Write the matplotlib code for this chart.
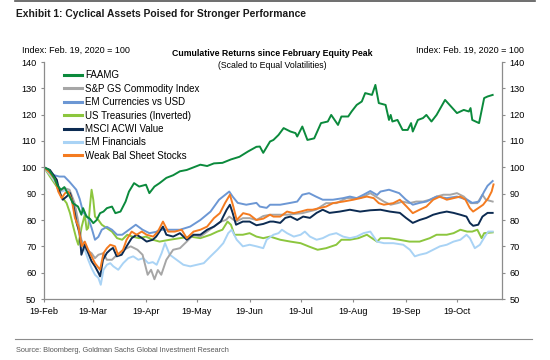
#!/usr/bin/env python3
# Exhibit 1 - cyclical assets since the Feb 2020 equity peak
import numpy as np
import pandas as pd
import matplotlib
matplotlib.use("Agg")
import matplotlib.pyplot as plt
import matplotlib.dates as mdates
from matplotlib.lines import Line2D

plt.rcParams['font.family'] = ['Liberation Sans', 'DejaVu Sans']

START = pd.Timestamp('2020-02-19')  # index base date (=100)

# values, x = days since 19-Feb-2020
faamg_days = [0, 3, 6, 8, 10, 12, 14, 15, 17, 20, 22, 23, 25, 27, 29, 31, 33, 35, 37, 40, 42, 45, 48, 50,
              53, 56, 60, 62, 65, 68, 72, 76, 80, 84, 88, 92, 96, 100, 105, 110, 115, 120, 125, 127, 129,
              133, 135, 138, 141, 145, 148, 149, 152, 155, 159, 163, 167, 169, 173, 175, 179, 181, 184,
              187, 189, 193, 195, 197, 201, 203, 204, 205, 208, 211, 214, 216, 217, 220, 223, 225, 228,
              231, 236, 243, 247, 250, 251, 252, 254, 256, 259, 261, 264]
faamg_vals = [100, 99, 96, 93, 91.5, 92.5, 90, 89, 86.4, 85.1, 82, 84.5, 81.3, 80.5, 78.8, 80, 82.6, 83.2,
              84.5, 85.1, 82.6, 83.2, 87, 90.8, 94, 92.7, 93.4, 90.2, 92.7, 94, 96, 97, 98.5, 99, 100, 101,
              100.5, 101.5, 101.7, 103, 104, 106, 107.8, 107.9, 105.5, 109.8, 110.4, 112.3, 114.9, 113.6,
              113, 111.7, 115.5, 110.4, 111, 116.8, 117.4, 119.9, 116.1, 119.3, 119.3, 121.2, 123.7, 125,
              128.2, 127.5, 131.3, 124.4, 123.7, 118, 119.9, 117.4, 118, 114.2, 114.2, 116.8, 113.6, 118,
              118.7, 119.9, 117.4, 119.9, 125.6, 120.6, 121.8, 121.2, 122.5, 118, 117.4, 116.8, 126.3,
              126.9, 127.5]

cmdty_days = [0, 3, 6, 9, 12, 15, 18, 20, 22, 25, 28, 30, 32, 35, 37, 40, 43, 47, 51, 55, 58, 61, 63, 65,
              67, 69, 72, 76, 80, 84, 88, 92, 96, 100, 104, 107, 109, 113, 117, 121, 125, 129, 133, 143,
              152, 160, 166, 172, 178, 186, 192, 196, 200, 204, 208, 211, 215, 219, 223, 227, 231, 235,
              239, 243, 247, 251, 255, 258, 260, 264]
cmdty_vals = [100, 98.5, 96, 90.8, 92.1, 91.5, 86.5, 80, 72.5, 68.7, 67.4, 65.5, 66.8, 67.4, 64.9, 64.9,
              66.8, 68.7, 70, 68.7, 66.8, 59.2, 61.1, 57.5, 61, 59.2, 64.9, 68.7, 69.3, 71.8, 74.4, 73.7,
              75.6, 77.5, 79.4, 80, 81.3, 79.4, 80.7, 80.7, 80, 81.5, 82, 82, 82.6, 83.9, 86.4, 86.4, 88.3,
              88.3, 90.2, 88.6, 87, 85.8, 86.4, 87, 86.4, 87, 87, 87.7, 88.9, 89.6, 89.6, 90.2, 88.9, 86.4,
              86.4, 89.6, 87.7, 87]

emfx_days = [0, 3, 6, 9, 12, 15, 17, 19, 21, 23, 26, 28, 30, 32, 34, 37, 40, 43, 46, 50, 54, 58, 62, 66,
             68, 74, 80, 86, 92, 98, 103, 109, 111, 114, 119, 125, 127, 131, 133, 139, 145, 149, 152, 156,
             160, 164, 170, 176, 180, 184, 188, 192, 196, 198, 203, 209, 213, 217, 221, 225, 231, 237, 243,
             249, 252, 256, 259, 261, 264]
emfx_vals = [100, 98.5, 97, 96.5, 96.5, 94.5, 93, 91.5, 88, 83, 80.8, 77, 72.5, 73.6, 76.3, 77.4, 76.3,
             74.4, 74.4, 76.3, 78.2, 76.3, 75, 75.5, 76.3, 76.3, 76.3, 77.5, 80, 83.2, 87.7, 90.8, 88.9,
             86.5, 85.8, 86.5, 85.1, 84.6, 85.8, 85.8, 86.5, 87, 89.6, 90.2, 88.9, 87.7, 87.7, 88.3, 88.9,
             88.3, 89.6, 91, 89.5, 90.8, 91.5, 90.2, 87.7, 85.8, 86.5, 87, 88.9, 88.3, 88.9, 87.7, 86.5,
             87, 90.8, 93, 94.8]

ust_days = [0, 3.5, 7.5, 10.4, 13.3, 15.3, 17.2, 19.2, 20.2, 22.2, 24, 25.1, 26, 27, 28, 29, 30, 32, 34,
            37, 40, 43, 46, 49, 52, 56, 60, 64, 68, 74, 80, 86, 92, 98, 102, 105, 108, 110, 112, 117, 121,
            125, 129, 133, 139, 145, 151, 156, 161, 166, 172, 175, 180, 185, 190, 193, 196, 198, 203, 209,
            215, 221, 227, 231, 237, 241, 245, 249, 252, 255, 257.5, 259, 264]
ust_vals = [100, 96.5, 92.7, 88.9, 86.4, 82.6, 77.5, 72.5, 70.6, 77.5, 82, 76.3, 77, 85.1, 91.5, 87.7,
            81.3, 80, 78.2, 76.9, 75.6, 73.1, 72.5, 74.4, 73.7, 73.1, 73.7, 72.5, 71.8, 72.5, 73.1, 73.7,
            73.1, 74.4, 75.6, 76.3, 79.4, 78.2, 74.4, 74.4, 75, 73.7, 73.1, 73.7, 72.5, 71.8, 71.2, 69.9,
            68.7, 69.3, 70.6, 72.5, 72.5, 73.1, 74.4, 73.1, 71.8, 73.1, 73.1, 72.5, 71.8, 71.8, 73.1, 74.4,
            74.4, 75, 76.3, 75.6, 75.6, 76.3, 73.1, 75, 75.3]

msci_days = [0, 3.5, 7.5, 9.4, 11, 13.3, 15.3, 17, 19.2, 21, 22, 24, 26, 28, 30, 32, 33, 34.7, 37, 39,
             40.6, 42.8, 45.7, 48.6, 51.6, 54.5, 57.5, 60.4, 64, 66, 70, 72, 76, 80, 84, 88, 92, 96, 100,
             104, 107.5, 109.4, 111, 113, 117, 121, 125, 129, 133, 135, 139, 142, 145, 149, 152.5, 156.5,
             160.4, 164, 168, 174, 180, 186, 192, 198, 203.5, 209.4, 213, 217, 221, 225, 229, 233, 237,
             241, 245, 248.6, 250.6, 252.5, 255.5, 258, 261, 264]
msci_vals = [100, 99, 95.3, 90.2, 87.7, 88.9, 90.2, 86.5, 78.9, 75, 66.8, 70.6, 67.5, 64.3, 62.4, 60,
             58.6, 64.9, 67.5, 68.7, 69.4, 66.2, 66.8, 70, 73.1, 74.4, 73.2, 71.8, 72.5, 73.7, 77.5, 74.4,
             73.7, 75, 72.5, 74.4, 74.4, 76.3, 77.5, 79.4, 83.9, 85.8, 82.7, 78.2, 79.4, 79.4, 78, 78.5,
             79.4, 79.4, 78.9, 80.8, 81.3, 80, 81.3, 80.8, 82.7, 83.9, 82.7, 83.2, 83.9, 83.2, 83.7, 83.9,
             83.2, 82.7, 80.8, 78.9, 80, 80.8, 82, 82.7, 83.2, 82.7, 82, 81.3, 78.9, 77.8, 78.2, 81.3,
             82.7, 82.7]

emfin_days = [0, 3.5, 7.5, 10.4, 13.3, 16.3, 18.2, 20.2, 22.2, 24, 26, 28, 30, 32, 33.4, 35, 37, 39,
              40.8, 43.7, 46.6, 49.6, 52.5, 55.5, 58.4, 61.4, 64, 66.3, 69.2, 71.2, 74, 78, 82, 86, 90,
              94, 98, 102, 105.5, 108.4, 110.4, 113.4, 117, 121, 125, 129, 131, 135, 138, 140, 143, 147,
              151, 153.5, 156.5, 160.4, 164, 168, 172, 176, 180, 184, 188, 192, 196, 200, 205.5, 211.4,
              215.3, 218.2, 221, 225, 229, 233, 237, 241, 245, 248.6, 250.6, 253.5, 256.5, 259.4, 261.4,
              264]
emfin_vals = [100, 97.2, 93.4, 90.8, 91.5, 88.9, 83.9, 76.3, 70, 68.7, 64.9, 61.7, 59.2, 58, 55.4, 61.1,
              63, 63.6, 62.4, 61.1, 63.6, 65.5, 66.2, 64.9, 65.5, 63.6, 64, 63, 67.4, 71.2, 66.8, 64.9, 63,
              62.4, 63, 63.6, 66.2, 68.7, 71.2, 75, 76.3, 72.5, 70, 70.6, 70, 69.3, 72.5, 74.4, 75, 76.3,
              75, 73.7, 74.4, 75.6, 73.7, 72.5, 73.1, 74.4, 75, 73.7, 73.1, 73.7, 75, 75.6, 71.8, 71.2,
              71.2, 70.6, 68.7, 66.2, 66.8, 67.4, 68.7, 70, 70.6, 71.8, 72.5, 74.4, 73.1, 69.3, 70.6, 73.7,
              75.6, 75.6]

weak_days = [0, 3.5, 6.5, 8.4, 10.4, 12.4, 14.3, 16.3, 18.2, 20.2, 22.2, 24, 26, 28, 30, 33, 35, 37, 39,
             41.8, 43.5, 46.5, 48.6, 51.6, 54.5, 57.5, 60.4, 64.3, 67, 70, 73, 77, 81, 84, 88, 92, 96, 100,
             103.5, 106.5, 109.4, 111.4, 113.4, 117.2, 121, 125, 129, 133, 135, 139, 143, 147, 151, 155,
             158, 162, 166, 170, 176, 182, 186, 190, 194, 197, 200, 205.5, 209.4, 213.4, 217, 221, 225,
             229, 233, 237, 241, 245, 248, 250.6, 252.5, 255.5, 258.4, 261.4, 263.4, 264.5]
weak_vals = [100, 97.9, 95.3, 90.8, 88.3, 90.2, 90.8, 87.7, 80.8, 77.5, 70, 71.8, 68.7, 66.2, 63.6, 61.1,
             67.4, 69.3, 70.6, 70, 66.8, 68.7, 72.5, 75.6, 74.4, 75.6, 74.4, 73.7, 75.6, 79.4, 75.6, 75.6,
             76.3, 73.1, 75.6, 76.3, 77.5, 80.7, 82.6, 86.4, 89.6, 85.1, 80, 82.6, 82, 80, 80.5, 82, 81.3,
             81.3, 83.2, 82.6, 83.2, 83.9, 83.9, 84.5, 85.1, 86.4, 87, 87.7, 88.3, 88.9, 88.3, 86.4, 85.8,
             86.4, 87.7, 85.1, 82.6, 83.9, 85.1, 87.7, 88.9, 87.7, 88.3, 88.9, 87.7, 84.5, 83.2, 84.5,
             85.8, 88.3, 90.8, 93.5]

# legend order as in the exhibit: (label, days, values, colour)
SERIES = [
    ("FAAMG", faamg_days, faamg_vals, "#0B8A3C"),
    ("S&P GS Commodity Index", cmdty_days, cmdty_vals, "#A6A6A6"),
    ("EM Currencies vs USD", emfx_days, emfx_vals, "#6C97D4"),
    ("US Treasuries (Inverted)", ust_days, ust_vals, "#8CC63E"),
    ("MSCI ACWI Value", msci_days, msci_vals, "#0C2B52"),
    ("EM Financials", emfin_days, emfin_vals, "#A9D3F5"),
    ("Weak Bal Sheet Stocks", weak_days, weak_vals, "#F47B20"),
]
DRAW_ORDER = [3, 5, 1, 2, 4, 6, 0]  # which series end up on top

AX_GREY = "#8C8C8C"

fig = plt.figure(figsize=(5.5, 3.6), dpi=100)
ax = fig.add_axes([44 / 550, 1 - 299 / 360, 458 / 550, 237 / 360])

for i in DRAW_ORDER:
    name, d, v, c = SERIES[i]
    dates = START + pd.to_timedelta(np.array(d, dtype=float), unit='D')
    ax.plot(dates, v, color=c, lw=1.4, solid_joinstyle='round')

ax.set_ylim(50, 140)
ax.set_yticks(np.arange(50, 141, 10))
ax.set_xlim(START, pd.Timestamp('2020-11-14 12:00'))
ax.set_xticks([pd.Timestamp(2020, m, 19) for m in range(2, 11)])
ax.xaxis.set_major_formatter(mdates.DateFormatter('%d-%b'))

ax.spines['top'].set_visible(False)
for s in ['left', 'right', 'bottom']:
    ax.spines[s].set_color(AX_GREY)
    ax.spines[s].set_linewidth(0.9)
ax.tick_params(axis='y', left=True, right=True, labelleft=True, labelright=True,
               direction='out', length=2.5, width=0.8, color=AX_GREY, labelsize=6.6, pad=3)
ax.tick_params(axis='x', direction='out', length=2.5, width=0.8, color=AX_GREY, labelsize=6.6, pad=3)

handles = [Line2D([], [], color=c, lw=2.2) for (_, _, _, c) in SERIES]
ax.legend(handles, [s[0] for s in SERIES], loc='upper left',
          bbox_to_anchor=(64 / 550, 1 - 70.5 / 360), bbox_transform=fig.transFigure,
          frameon=False, fontsize=7, handlelength=1.9, handletextpad=0.25,
          labelspacing=0.345, borderpad=0, borderaxespad=0)

# header / footer text
fig.text(16 / 550, 1 - 14 / 360, "Exhibit 1: Cyclical Assets Poised for Stronger Performance",
         weight='bold', fontsize=7.4, va='center', ha='left', color='#1A1A1A')
fig.text(22 / 550, 1 - 50 / 360, "Index: Feb. 19, 2020 = 100", fontsize=6.5, va='center', ha='left')
fig.text(524 / 550, 1 - 50.5 / 360, "Index: Feb. 19, 2020 = 100", fontsize=6.5, va='center', ha='right')
fig.text(272 / 550, 1 - 54 / 360, "Cumulative Returns since February Equity Peak",
         fontsize=6.3, weight='bold', va='center', ha='center')
fig.text(272 / 550, 1 - 65 / 360, "(Scaled to Equal Volatilities)", fontsize=6.3, va='center', ha='center')
fig.text(16 / 550, 1 - 350 / 360, "Source: Bloomberg, Goldman Sachs Global Investment Research",
         fontsize=5.3, va='center', ha='left', color='#595959')

fig.add_artist(Line2D([15 / 550, 535 / 550], [1 - 1 / 360, 1 - 1 / 360], color='#555555', lw=1.2))
fig.add_artist(Line2D([15 / 550, 532 / 550], [1 - 339 / 360, 1 - 339 / 360], color='#8C8C8C', lw=0.8))

fig.savefig("out.png", dpi=100, facecolor='white')
